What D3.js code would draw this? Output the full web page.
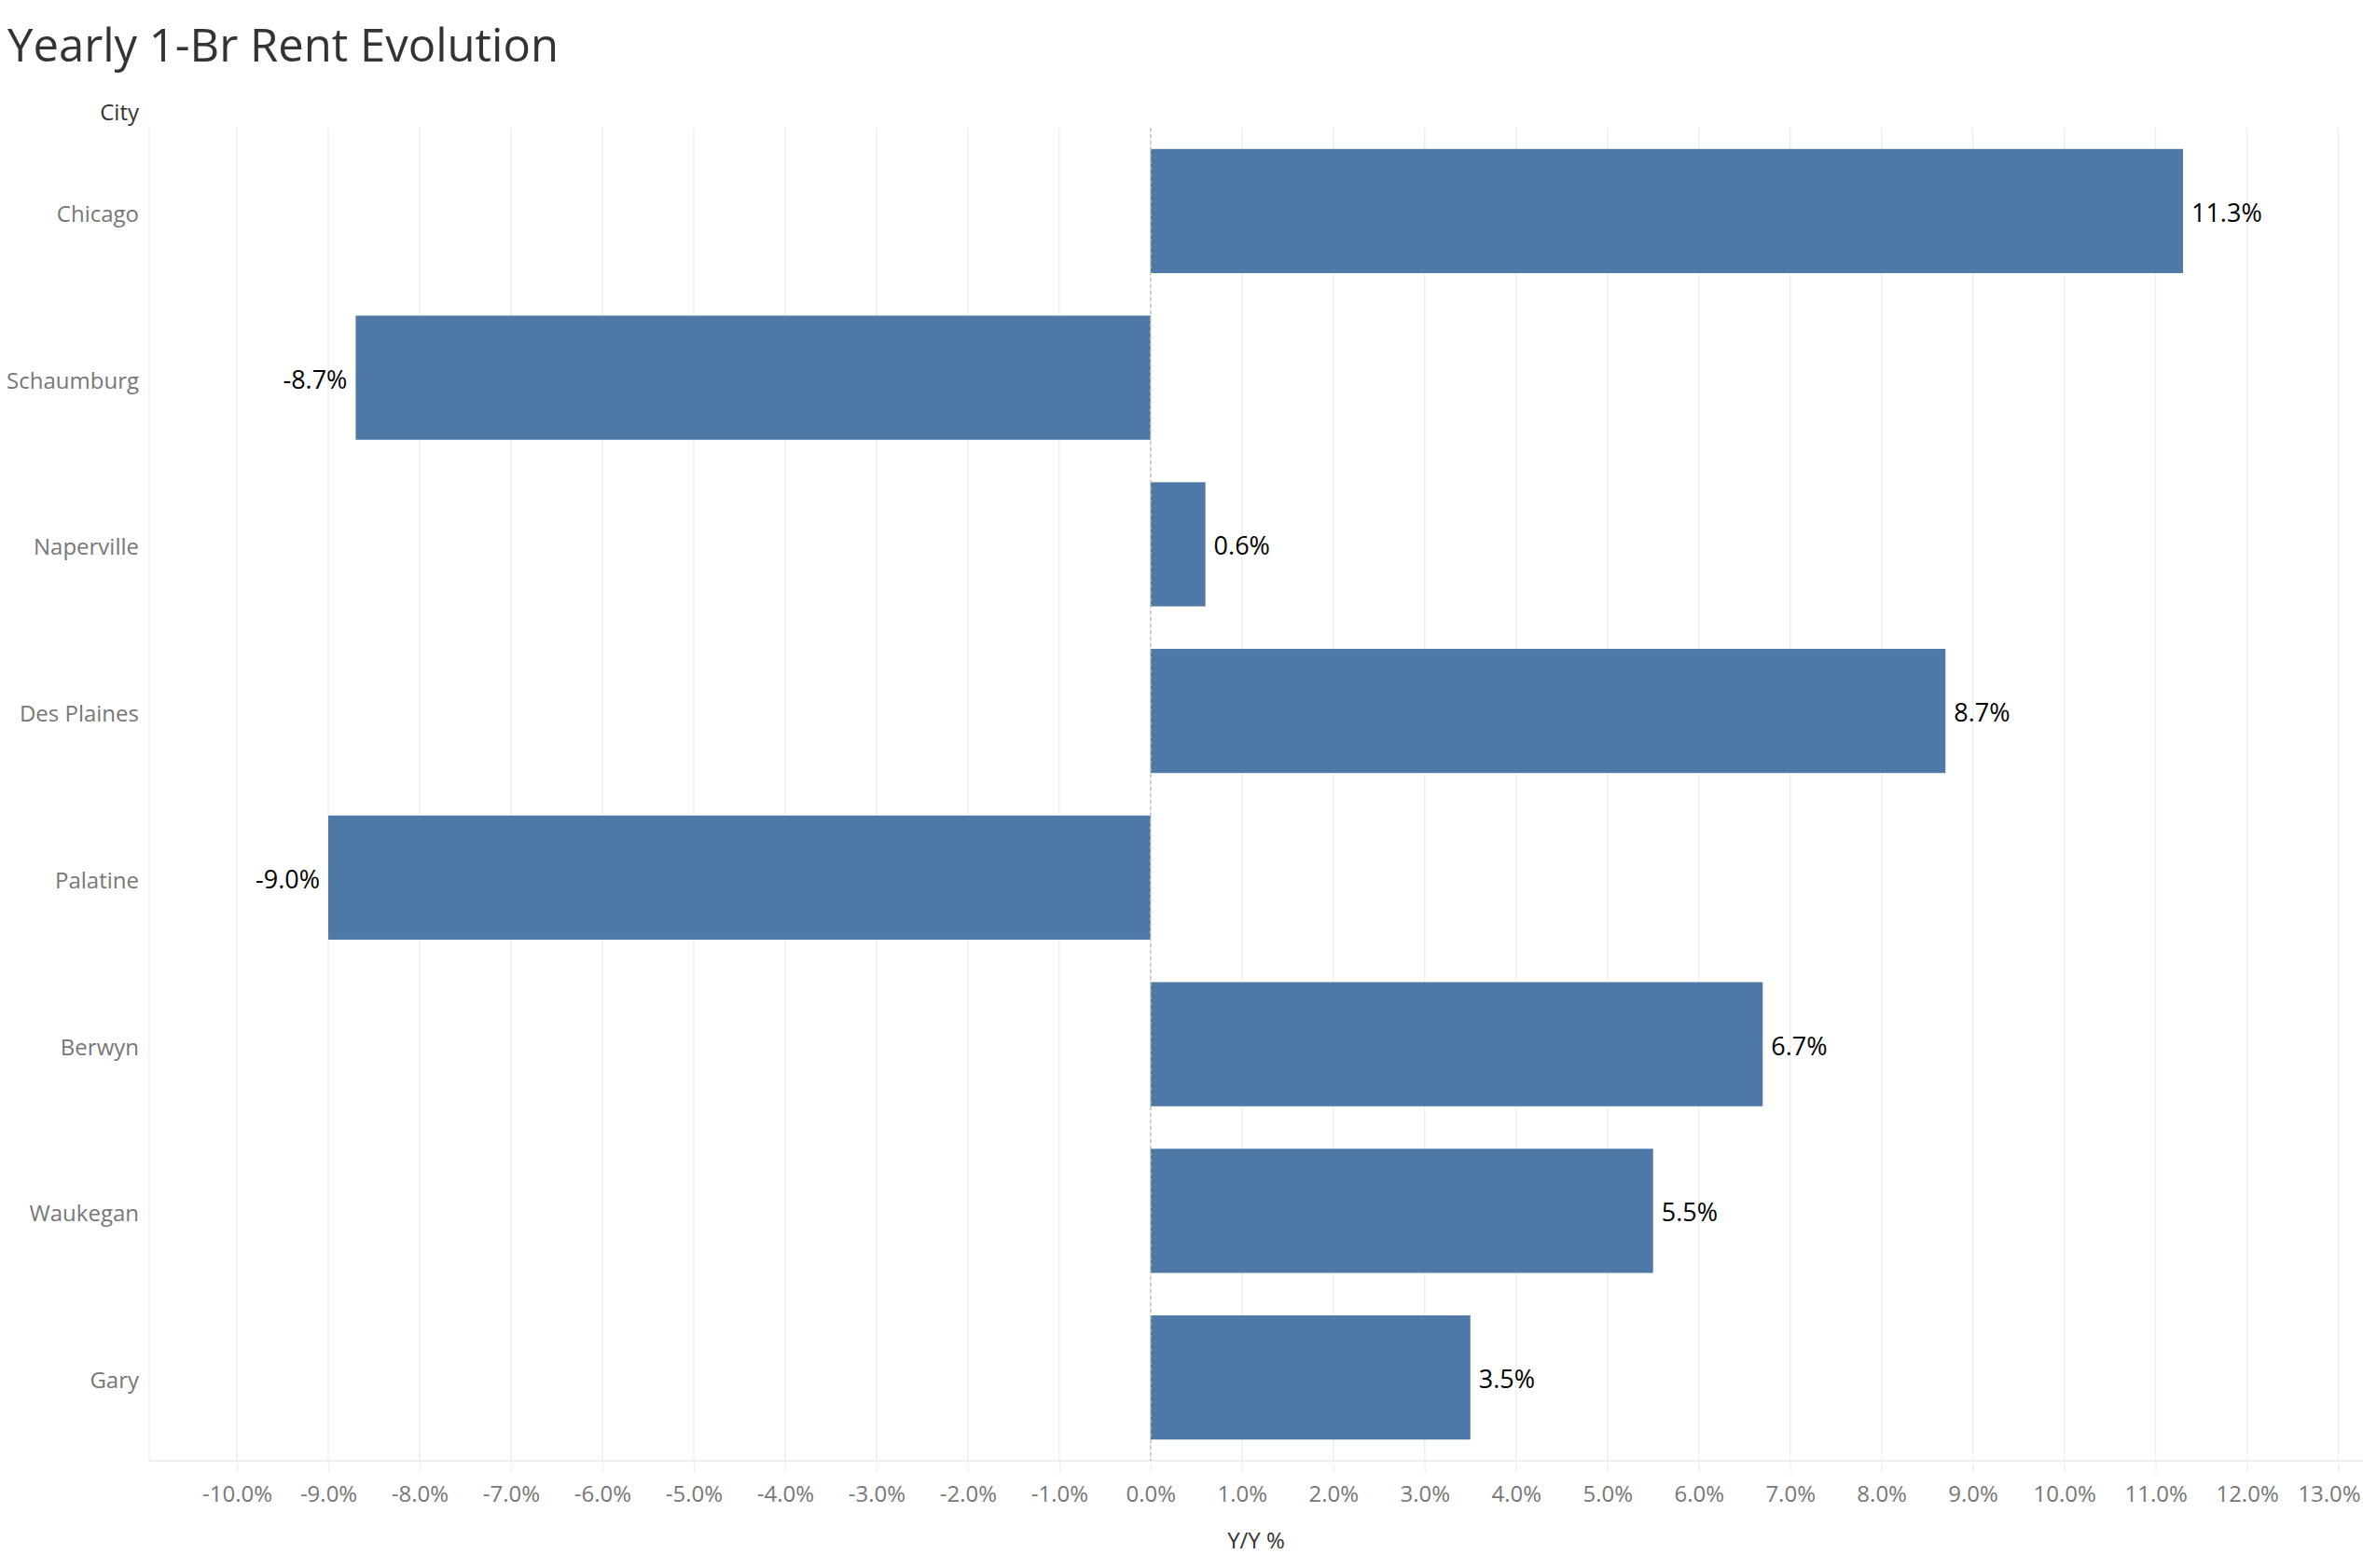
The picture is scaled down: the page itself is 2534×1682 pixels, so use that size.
<html>
<head>
<meta charset="utf-8">
<title>Yearly 1-Br Rent Evolution</title>
<script src="https://cdn.jsdelivr.net/npm/d3@7"></script>
<style>
  body {
    margin: 0;
    background: #fff;
    font-family: 'Open Sans', 'Noto Sans', sans-serif;
  }
</style>
</head>
<body>
<div id="chart"></div>
<script>
  // data
  const cities = ["Chicago", "Schaumburg", "Naperville", "Des Plaines", "Palatine", "Berwyn", "Waukegan", "Gary"]
  const yoy = [11.3, -8.7, 0.6, 8.7, -9.0, 6.7, 5.5, 3.5]
  const tickVals = d3.range(-10, 14)

  const W = 2534, H = 1682
  const pLeft = 160, pRight = 2534, pTop = 137, pBottom = 1567

  const svg = d3.select("#chart").append("svg")
    .attr("width", W)
    .attr("height", H)

  const x = d3.scaleLinear().domain([-10.96, 13.27]).range([pLeft, pRight])
  const y = d3.scaleBand().domain(cities).range([pTop, pBottom])
    .paddingInner(0.255).paddingOuter(0.1275)

  // title
  svg.append("text")
    .attr("x", 8).attr("y", 66)
    .attr("font-size", 49)
    .attr("fill", "#333")
    .text("Yearly 1-Br Rent Evolution")

  // header
  svg.append("text")
    .attr("x", 149).attr("y", 129)
    .attr("text-anchor", "end")
    .attr("font-size", 24)
    .attr("fill", "#333")
    .text("City")

  //grid
  svg.append("g").selectAll("line").data(tickVals).join("line")
    .attr("x1", d => x(d)).attr("x2", d => x(d))
    .attr("y1", pTop).attr("y2", pBottom)
    .attr("stroke", "#efefef")
    .attr("stroke-width", 1.5)

  // left + bottom axis lines
  svg.append("line")
    .attr("x1", pLeft).attr("x2", pLeft).attr("y1", pTop).attr("y2", pBottom)
    .attr("stroke", "#efefef").attr("stroke-width", 1.5)
  svg.append("line")
    .attr("x1", pLeft).attr("x2", pRight).attr("y1", pBottom).attr("y2", pBottom)
    .attr("stroke", "#efefef").attr("stroke-width", 2)

  // x axis
  const xAxis = svg.append("g")
    .attr("transform", `translate(0,${pBottom + 3})`)
    .call(d3.axisBottom(x).tickValues(tickVals).tickSize(9).tickSizeOuter(0)
      .tickFormat(d => d.toFixed(1) + "%"))
  xAxis.select(".domain").remove()
  xAxis.selectAll(".tick line").attr("stroke", "#efefef").attr("stroke-width", 1.5)
  xAxis.selectAll(".tick text")
    .attr("y", 24)
    .attr("font-family", "'Open Sans', sans-serif")
    .attr("font-size", 24)
    .attr("fill", "#777")
  // last label kept inside the right edge
  xAxis.selectAll(".tick text").filter(d => d === 13)
    .attr("text-anchor", "end")
    .attr("x", W - 3 - x(13))

  svg.append("text")
    .attr("x", (pLeft + pRight) / 2).attr("y", 1661)
    .attr("text-anchor", "middle")
    .attr("font-size", 24)
    .attr("fill", "#333")
    .text("Y/Y %")

  // y labels
  svg.append("g").selectAll("text").data(cities).join("text")
    .attr("x", 149)
    .attr("y", d => y(d) + y.bandwidth() / 2 + 3)
    .attr("dy", "0.35em")
    .attr("text-anchor", "end")
    .attr("font-size", 24)
    .attr("fill", "#777")
    .text(d => d)

  // bars
  const rows = cities.map((c, i) => ({ city: c, v: yoy[i] }))
  svg.append("g").selectAll("rect").data(rows).join("rect")
    .attr("x", d => x(Math.min(0, d.v)))
    .attr("width", d => Math.abs(x(d.v) - x(0)))
    .attr("y", d => y(d.city))
    .attr("height", y.bandwidth())
    .attr("fill", "#4e79a7")

  // zero line
  svg.append("line")
    .attr("x1", x(0)).attr("x2", x(0)).attr("y1", pTop).attr("y2", pBottom)
    .attr("stroke", "#c4c4c4").attr("stroke-width", 1.5)
    .attr("stroke-dasharray", "4,3")

  // value labels
  svg.append("g").selectAll("text").data(rows).join("text")
    .attr("x", d => d.v >= 0 ? x(d.v) + 9 : x(d.v) - 9)
    .attr("y", d => y(d.city) + y.bandwidth() / 2 + 2)
    .attr("dy", "0.35em")
    .attr("text-anchor", d => d.v >= 0 ? "start" : "end")
    .attr("font-size", 27)
    .attr("fill", "#000")
    .text(d => d.v.toFixed(1) + "%")
</script>
</body>
</html>
